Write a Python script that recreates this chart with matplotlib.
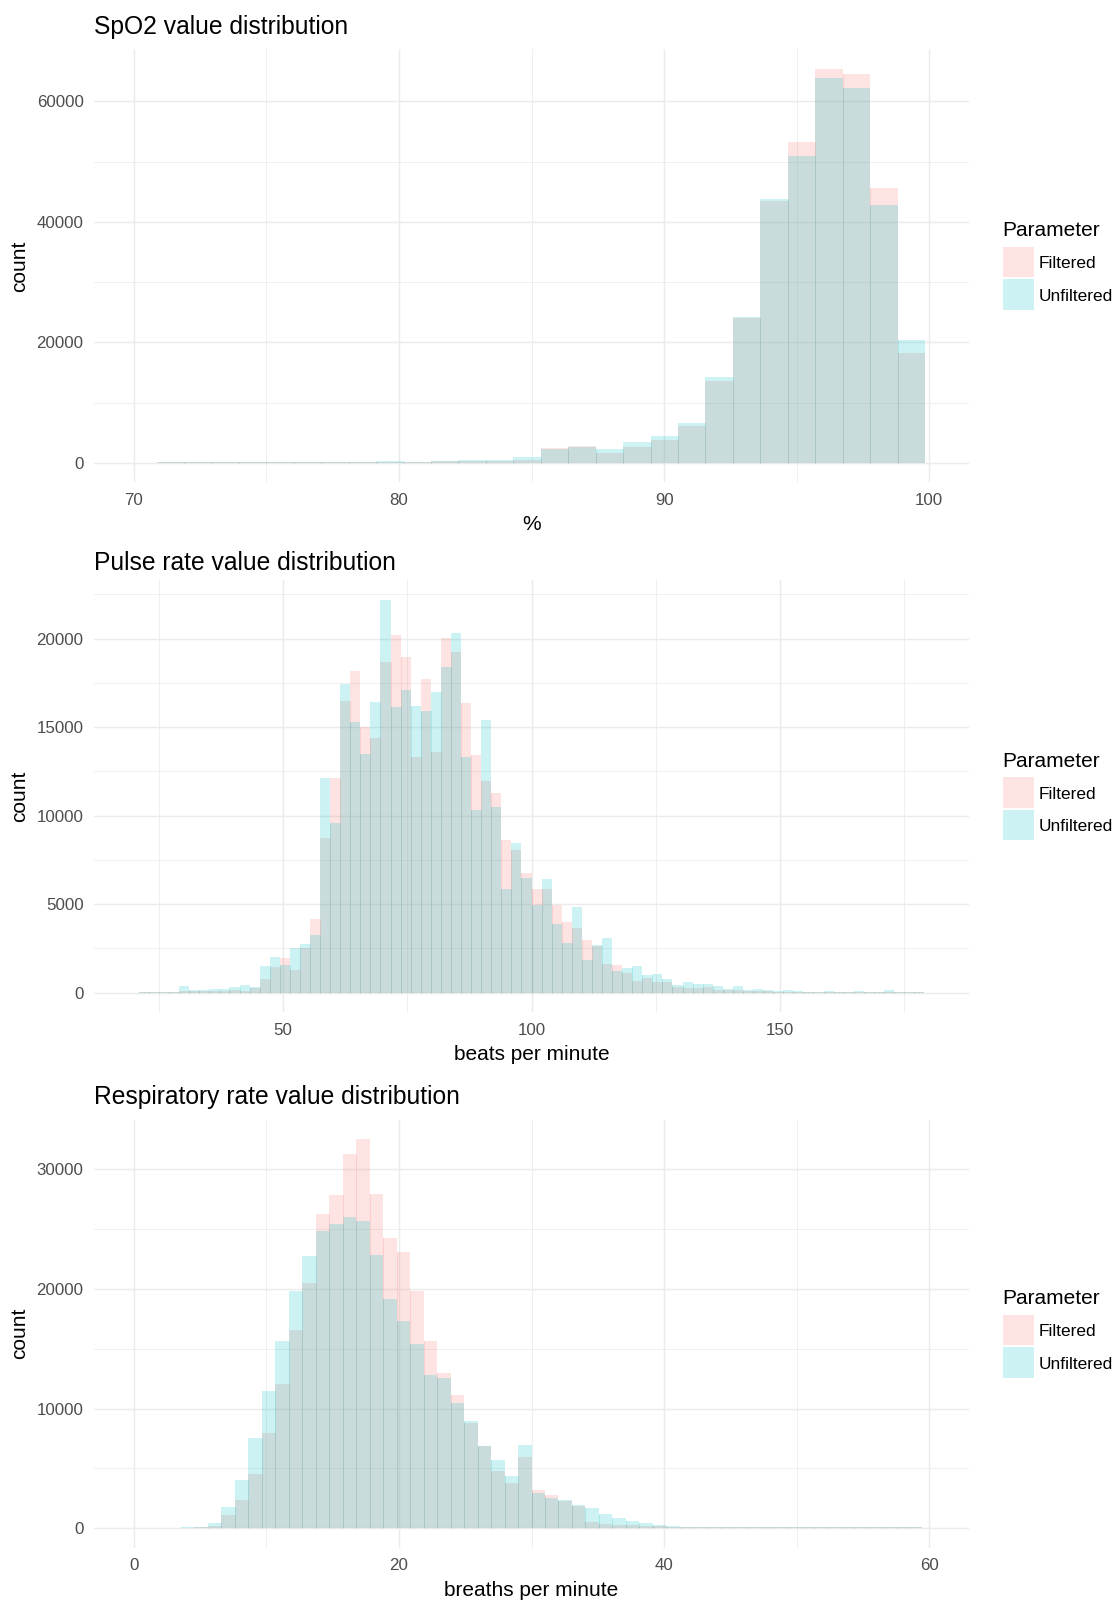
import numpy as np
import matplotlib
matplotlib.use('Agg')
import matplotlib.pyplot as plt
from matplotlib.patches import Rectangle

plt.rcParams['font.family'] = ['Liberation Sans', 'DejaVu Sans']

# ---------------- data ----------------
groups = ['Filtered', 'Unfiltered']
group_colors = ['#F8766D', '#00BFC4']

# SpO2 (%)
spo2_bin_start = 70.86
spo2_bin_width = 1.035
spo2_filtered = [80, 80, 60, 60, 60, 60, 70, 120, 200, 150,
                 250, 300, 280, 390, 2380, 2710, 1550, 2550, 3710, 6100,
                 13600, 24050, 43500, 53300, 65400, 64600, 45700, 18200]
spo2_unfiltered = [100, 100, 80, 80, 80, 80, 90, 100, 250, 200,
                   250, 420, 440, 890, 2220, 2550, 2220, 3380, 4380, 6550,
                   14200, 24150, 43800, 51000, 63900, 62300, 42800, 20400]
spo2_xticks = [70, 80, 90, 100]
spo2_yticks = [0, 20000, 40000, 60000]

# Pulse rate (beats per minute)
pulse_bin_start = 18.99
pulse_bin_width = 2.0253
pulse_filtered = [0, 30, 30, 40, 50, 95, 95, 75, 95, 95,
                  150, 110, 280, 770, 1450, 1950, 1280, 2500, 4160, 8760,
                  12130, 16480, 18170, 15010, 14390, 18700, 20200, 18960, 13310, 17720,
                  13600, 20040, 19260, 16360, 13430, 11960, 11280, 8620, 8060, 6760,
                  5860, 5860, 4950, 3990, 3650, 2980, 2650, 1620, 1560, 1110,
                  660, 830, 600, 600, 320, 260, 260, 320, 170, 130,
                  130, 90, 90, 80, 60, 60, 50, 40, 30, 40,
                  30, 30, 40, 30, 30, 40, 30, 30, 30, 0]
pulse_unfiltered = [0, 30, 30, 40, 50, 375, 150, 150, 205, 205,
                    320, 430, 340, 1500, 1990, 1560, 2500, 2750, 3260, 12130,
                    9580, 17440, 15290, 13500, 16420, 22180, 16140, 17100, 16190, 15910,
                    16990, 18400, 20320, 13310, 10320, 15400, 10490, 5860, 8450, 6480,
                    4950, 6420, 3880, 2810, 4840, 1850, 2690, 3090, 1220, 1390,
                    1510, 1000, 1050, 770, 430, 600, 490, 490, 380, 210,
                    380, 150, 210, 150, 90, 150, 90, 60, 40, 90,
                    40, 40, 90, 40, 40, 150, 40, 40, 40, 0]
pulse_xticks = [50, 100, 150]
pulse_yticks = [0, 5000, 10000, 15000, 20000]

# Respiratory rate (breaths per minute)
resp_bin_start = -0.5085
resp_bin_width = 1.01695
resp_filtered = [0, 20, 20, 30, 40, 60, 150, 1090, 2340, 4520,
                 7970, 12040, 16560, 20490, 26260, 27850, 31280, 32540, 27940, 24260,
                 23080, 19820, 15640, 12960, 11120, 8780, 6850, 4760, 3760, 5930,
                 3180, 2760, 2260, 1890, 500, 330, 250, 250, 170, 170,
                 100, 60, 60, 60, 60, 60, 60, 60, 60, 60,
                 60, 60, 60, 60, 60, 60, 60, 60, 60, 0]
resp_unfiltered = [0, 30, 30, 40, 60, 120, 390, 1760, 4010, 7530,
                   11460, 15640, 19820, 22750, 24840, 25430, 26010, 25680, 22830, 19150,
                   17310, 15390, 12800, 12550, 10460, 9000, 6860, 5680, 4350, 6940,
                   2930, 2510, 2340, 1920, 1670, 1170, 840, 590, 420, 250,
                   170, 80, 80, 80, 80, 80, 80, 80, 80, 80,
                   80, 80, 80, 80, 80, 80, 80, 80, 80, 0]
resp_xticks = [0, 20, 40, 60]
resp_yticks = [0, 10000, 20000, 30000]

panels = [
    dict(title='SpO2 value distribution', xlabel='%', start=spo2_bin_start, width=spo2_bin_width,
         series=[spo2_filtered, spo2_unfiltered], xticks=spo2_xticks, yticks=spo2_yticks,
         xrange=(70, 100), top=49.3, bottom=482.4, xlabel_y=524, title_y=27),
    dict(title='Pulse rate value distribution', xlabel='beats per minute', start=pulse_bin_start,
         width=pulse_bin_width, series=[pulse_filtered, pulse_unfiltered], xticks=pulse_xticks,
         yticks=pulse_yticks, xrange=(20, 180), top=580.4, bottom=1012.2, xlabel_y=1054.5,
         title_y=562.5),
    dict(title='Respiratory rate value distribution', xlabel='breaths per minute', start=resp_bin_start,
         width=resp_bin_width, series=[resp_filtered, resp_unfiltered], xticks=resp_xticks,
         yticks=resp_yticks, xrange=(0, 60), top=1119.6, bottom=1547.6, xlabel_y=1590,
         title_y=1097),
]

# ---------------- figure ----------------
W, H = 1116, 1600
fig = plt.figure(figsize=(W / 100, H / 100), dpi=100)
fig.patch.set_facecolor('white')

LEFT, RIGHT = 94, 969
GRID = '#EBEBEB'
TICKC = '#4D4D4D'


def fx(px):
    return px / W


def fy(py):
    return 1 - py / H


for p in panels:
    ax = fig.add_axes([fx(LEFT), fy(p['bottom']), fx(RIGHT - LEFT), (p['bottom'] - p['top']) / H])
    n = len(p['series'][0])
    edges = p['start'] + p['width'] * np.arange(n + 1)
    for vals, col in zip(p['series'], group_colors):
        vals = np.asarray(vals, dtype=float)
        ax.bar(edges[:-1], vals, width=p['width'], align='edge', color=col, alpha=0.2,
               linewidth=0, zorder=2)
        # faint seams between adjacent bars (as in the rendered original)
        seam_h = np.minimum(vals[:-1], vals[1:])
        m = seam_h > 0
        ax.vlines(edges[1:-1][m], 0, seam_h[m], colors=col, alpha=0.2, linewidth=0.7, zorder=3)

    ymax = max(max(s) for s in p['series'])
    ax.set_ylim(-0.05 * ymax, 1.05 * ymax)
    x0, x1 = p['xrange']
    ax.set_xlim(x0 - 0.05 * (x1 - x0), x1 + 0.05 * (x1 - x0))

    ax.set_xticks(p['xticks'])
    ax.set_yticks(p['yticks'])
    ax.set_xticklabels([str(t) for t in p['xticks']])
    ax.set_yticklabels([str(t) for t in p['yticks']])
    # minor gridlines midway between majors
    xt = np.asarray(p['xticks'], float)
    yt = np.asarray(p['yticks'], float)
    dx = xt[1] - xt[0]
    dy = yt[1] - yt[0]
    xmin_t = np.concatenate([[xt[0] - dx / 2], (xt[:-1] + xt[1:]) / 2, [xt[-1] + dx / 2]])
    ymin_t = np.concatenate([(yt[:-1] + yt[1:]) / 2, [yt[-1] + dy / 2]])
    lo, hi = ax.get_xlim()
    xmin_t = xmin_t[(xmin_t > lo) & (xmin_t < hi)]
    ylo, yhi = ax.get_ylim()
    ymin_t = ymin_t[(ymin_t > ylo) & (ymin_t < yhi)]
    ax.set_xticks(xmin_t, minor=True)
    ax.set_yticks(ymin_t, minor=True)

    ax.grid(True, which='major', color=GRID, linewidth=1.05, zorder=0)
    ax.grid(True, which='minor', color=GRID, linewidth=0.55, zorder=0)
    ax.set_axisbelow(True)
    for s in ax.spines.values():
        s.set_visible(False)
    ax.tick_params(which='both', length=0)
    ax.tick_params(axis='x', labelsize=12.2, labelcolor=TICKC, pad=7.5)
    ax.tick_params(axis='y', labelsize=12.2, labelcolor=TICKC, pad=7.5)

    # titles & labels
    fig.text(fx(LEFT), fy(p['title_y']), p['title'], fontsize=17.7, ha='left', va='center', color='black')
    fig.text(fx((LEFT + RIGHT) / 2), fy(p['xlabel_y']), p['xlabel'], fontsize=15, ha='center',
             va='center', color='black')
    fig.text(fx(19.4), fy((p['top'] + p['bottom']) / 2), 'count', fontsize=15, rotation=90,
             ha='center', va='center', color='black')

    # legend
    c = (p['top'] + p['bottom']) / 2
    fig.text(fx(1002), fy(c - 35), 'Parameter', fontsize=15, ha='left', va='center', color='black')
    key_tops = [c - 19, c + 13.5]
    for kt, col, lab in zip(key_tops, group_colors, groups):
        fig.patches.append(Rectangle((fx(1003), fy(kt + 30.5)), fx(30.5), 30.5 / H,
                                     transform=fig.transFigure, facecolor=col, alpha=0.2,
                                     edgecolor='none'))
        fig.text(fx(1038.5), fy(kt + 17), lab, fontsize=12.4, ha='left', va='center', color='black')

fig.savefig('out.png', dpi=100, facecolor='white')
